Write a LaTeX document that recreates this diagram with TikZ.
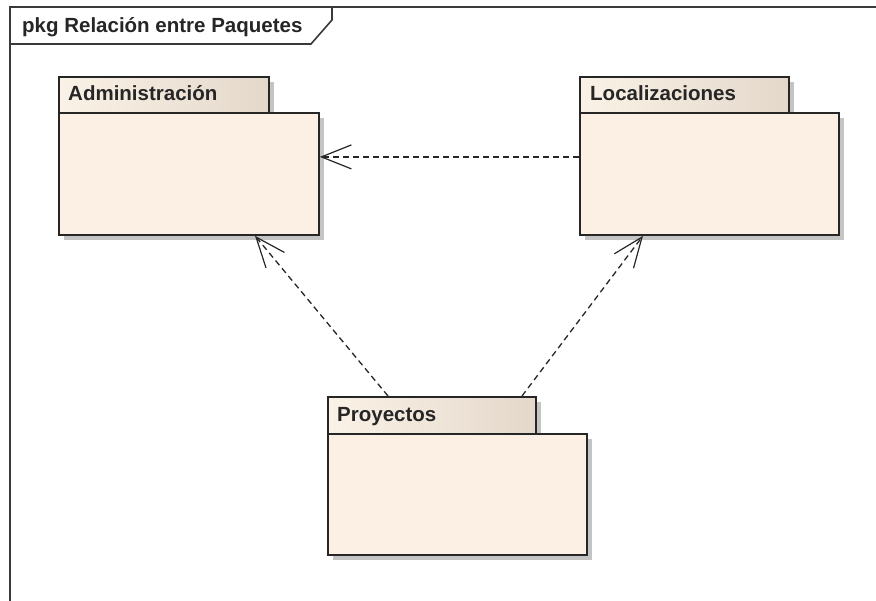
\documentclass[tikz,border=0pt]{standalone}
\usepackage{fontspec}
\setmainfont{Liberation Sans}
\usetikzlibrary{arrows.meta}
\definecolor{pkgbody}{HTML}{FBF0E3}
\definecolor{pkgtabL}{HTML}{FBF2E7}
\definecolor{pkgtabR}{HTML}{E3D8CA}
\definecolor{pkgshadow}{HTML}{C4C4C4}
\definecolor{framecol}{HTML}{3A3A3A}
\tikzset{
  x=1pt, y=-1pt,
  pkgbodybox/.style={draw=black!85, line width=1.8pt, fill=pkgbody, inner sep=0pt},
  pkgtabbox/.style={draw=black!85, line width=1.8pt, left color=pkgtabL, right color=pkgtabR, inner sep=0pt},
  pkglabel/.style={font=\bfseries\fontsize{20.5}{23}\selectfont, text=black!85, anchor=base west, inner sep=0pt},
  pkgshade/.style={fill=pkgshadow},
  dep/.style={draw=black!85, line width=1.3pt, dash pattern=on 6pt off 4pt,
    -{Straight Barb[length=30pt, width=24pt, line width=1.2pt]}},
}
\begin{document}
\begin{tikzpicture}
\useasboundingbox (0,0) rectangle (876,601);
\fill[white] (0,0) rectangle (876,601);

% diagram frame and name tab
\draw[framecol, line width=2pt] (10,605) -- (10,7) -- (880,7);
\draw[framecol, line width=1.6pt] (10,44) -- (311,44) -- (332,20) -- (332,7);
\node[pkglabel] (title) at (22,33) {pkg Relación entre Paquetes};

% shadows
\fill[pkgshade] (64,82) rectangle (274,118);
\fill[pkgshade] (64,118) rectangle (324,240);
\fill[pkgshade] (585,82) rectangle (794,118);
\fill[pkgshade] (585,118) rectangle (844,240);
\fill[pkgshade] (333,402) rectangle (541,439);
\fill[pkgshade] (333,439) rectangle (592,560);

% Administración
\node[pkgtabbox, anchor=north west, minimum width=210pt, minimum height=36pt] (adminTab) at (58,76) {};
\node[pkgbodybox, anchor=north west, minimum width=260pt, minimum height=122pt] (admin) at (58,112) {};
\node[pkglabel] (adminLbl) at (68,101) {Administración};

% Localizaciones
\node[pkgtabbox, anchor=north west, minimum width=209pt, minimum height=36pt] (locTab) at (579,76) {};
\node[pkgbodybox, anchor=north west, minimum width=259pt, minimum height=122pt] (loc) at (579,112) {};
\node[pkglabel] (locLbl) at (590,101) {Localizaciones};

% Proyectos
\node[pkgtabbox, anchor=north west, minimum width=208pt, minimum height=37pt] (proyTab) at (327,396) {};
\node[pkgbodybox, anchor=north west, minimum width=259pt, minimum height=121pt] (proy) at (327,433) {};
\node[pkglabel] (proyLbl) at (337,422) {Proyectos};

% dependencies
\draw[dep] ([yshift=17pt]loc.west) -- ([yshift=17pt]admin.east);
\draw[dep] ([xshift=61pt]proyTab.north west) -- ([xshift=197pt]admin.south west);
\draw[dep] ([xshift=195pt]proyTab.north west) -- ([xshift=64pt]loc.south west);
\end{tikzpicture}
\end{document}
